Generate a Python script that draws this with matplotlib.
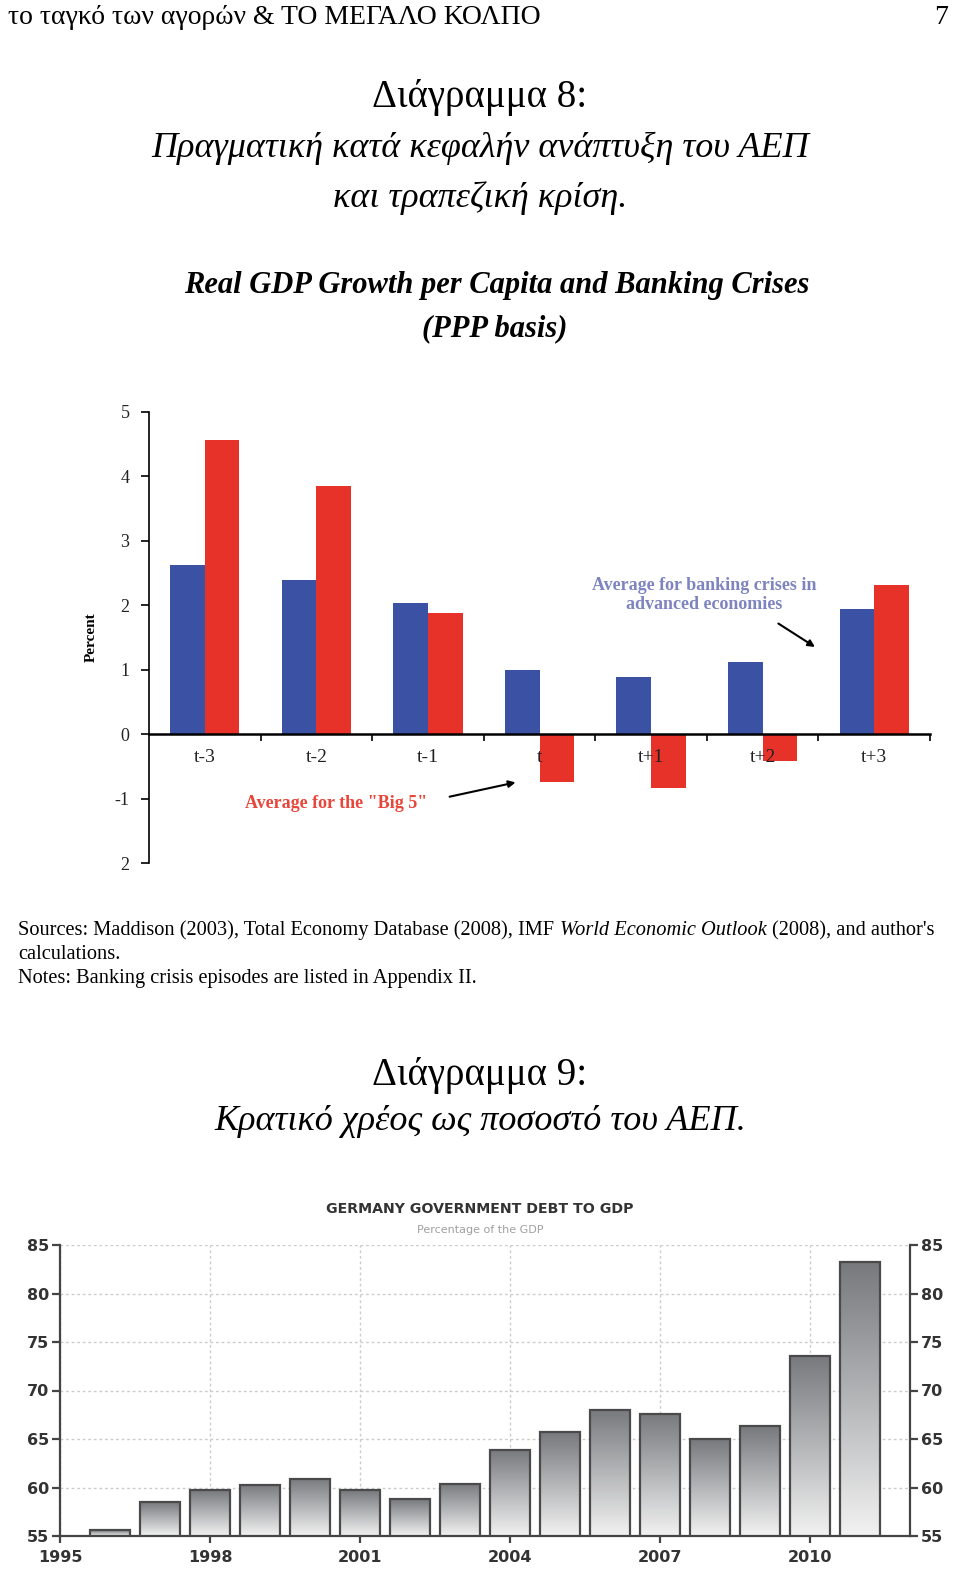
import numpy as np
import matplotlib
matplotlib.use("Agg")
import matplotlib.pyplot as plt
from matplotlib.colors import LinearSegmentedColormap

# --- chart 8 data: real GDP growth per capita around banking crises
periods = ["t-3", "t-2", "t-1", "t", "t+1", "t+2", "t+3"]
advanced = [2.62, 2.40, 2.03, 1.00, 0.88, 1.12, 1.95]
big5 = [4.56, 3.85, 1.88, -0.74, -0.84, -0.42, 2.31]
pct_ticks = [5, 4, 3, 2, 1, 0, -1, -2]
pct_labels = ["5", "4", "3", "2", "1", "0", "-1", "2"]

# --- chart 9 data: Germany government debt to GDP
years = list(range(1996, 2012))
debt = [55.6, 58.5, 59.7, 60.3, 60.9, 59.7, 58.8, 60.4,
        63.9, 65.7, 68.0, 67.6, 65.0, 66.3, 73.6, 83.2]
year_ticks = [1995, 1998, 2001, 2004, 2007, 2010]
debt_ticks = [55, 60, 65, 70, 75, 80, 85]

W, H = 960, 1581
SERIF = "Liberation Serif"


def fx(px):
    return px / W


def fy(py):
    return 1 - py / H


def axes_rect(left, top, right, bottom):
    return [fx(left), fy(bottom), (right - left) / W, (bottom - top) / H]


fig = plt.figure(figsize=(W / 100, H / 100), dpi=100)
fig.patch.set_facecolor("white")

# page header and captions
fig.text(fx(8), fy(17), "το ταγκό των αγορών & ΤΟ ΜΕΓΑΛΟ ΚΟΛΠΟ", family=SERIF,
         fontsize=20, ha="left", va="center")
fig.text(fx(948), fy(17), "7", family=SERIF, fontsize=20, ha="right", va="center")

fig.text(0.5, fy(98), "Διάγραμμα 8:", family=SERIF, fontsize=28, ha="center", va="center")
fig.text(0.5, fy(148), "Πραγματική κατά κεφαλήν ανάπτυξη του ΑΕΠ", family=SERIF,
         style="italic", fontsize=26, ha="center", va="center")
fig.text(0.5, fy(198), "και τραπεζική κρίση.", family=SERIF, style="italic",
         fontsize=26, ha="center", va="center")

fig.text(0.5, fy(1076), "Διάγραμμα 9:", family=SERIF, fontsize=28, ha="center", va="center")
fig.text(0.5, fy(1122), "Κρατικό χρέος ως ποσοστό του ΑΕΠ.", family=SERIF,
         style="italic", fontsize=26, ha="center", va="center")

# ---------------- chart 8 ----------------
fig.text(0.517, fy(285), "Real GDP Growth per Capita and Banking Crises", family=SERIF,
         weight="bold", style="italic", fontsize=22, ha="center", va="center")
fig.text(0.515, fy(329), "(PPP basis)", family=SERIF, weight="bold", style="italic",
         fontsize=22, ha="center", va="center")

ax1 = fig.add_axes(axes_rect(149, 412, 930, 863))
x = np.arange(len(periods))
w = 0.31
ax1.bar(x - w / 2, advanced, width=w, color="#3b51a3", zorder=2)
ax1.bar(x + w / 2, big5, width=w, color="#e7322a", zorder=2)
ax1.set_xlim(-0.5, len(periods) - 0.5)
ax1.set_ylim(-2, 5)
for s in ["top", "right"]:
    ax1.spines[s].set_visible(False)
ax1.spines["bottom"].set_position(("data", 0))
ax1.spines["bottom"].set_linewidth(1.8)
ax1.spines["bottom"].set_zorder(3)
ax1.spines["left"].set_linewidth(1.2)
ax1.set_yticks(pct_ticks)
ax1.set_yticklabels(pct_labels, family=SERIF, fontsize=13, color="#222222")
ax1.set_xticks(np.arange(len(periods)) + 0.5)
ax1.set_xticklabels([])
ax1.tick_params(axis="x", direction="out", length=5, width=1.2)
ax1.tick_params(axis="y", direction="out", length=6, width=1.2, pad=8)
for i, p in enumerate(periods):
    ax1.text(i, -0.36, p, family=SERIF, fontsize=14, ha="center", va="center", zorder=4,
             color="#222222")
ax1.set_ylabel("Percent", family=SERIF, fontsize=11, weight="bold", labelpad=12)

ax1.text(1.18, -1.07, 'Average for the "Big 5"', family=SERIF, fontsize=13, weight="bold",
         color="#e8463a", ha="center", va="center")
ax1.annotate("", xy=(2.81, -0.74), xytext=(2.17, -0.98),
             arrowprops=dict(arrowstyle="-|>", color="black", lw=1.5, mutation_scale=10))
ax1.text(4.48, 2.16, "Average for banking crises in\nadvanced economies", family=SERIF,
         fontsize=13, weight="bold", color="#7d84c0", ha="center", va="center",
         linespacing=1.2)
ax1.annotate("", xy=(5.49, 1.33), xytext=(5.12, 1.74),
             arrowprops=dict(arrowstyle="-|>", color="black", lw=1.5, mutation_scale=10))

# sources / notes
fs = 14.7
t1 = fig.text(fx(18), fy(940), "Sources: Maddison (2003), Total Economy Database (2008), IMF",
              family=SERIF, fontsize=fs, ha="left", va="bottom")
t2 = plt.annotate("World Economic Outlook", xy=(1, 0), xycoords=t1, xytext=(4, 0),
                  textcoords="offset points", family=SERIF, style="italic", fontsize=fs,
                  ha="left", va="bottom", annotation_clip=False)
plt.annotate("(2008), and author's", xy=(1, 0), xycoords=t2, xytext=(4, 0),
             textcoords="offset points", family=SERIF, fontsize=fs, ha="left", va="bottom",
             annotation_clip=False)
fig.text(fx(18), fy(964), "calculations.", family=SERIF, fontsize=fs, ha="left", va="bottom")
fig.text(fx(18), fy(988), "Notes: Banking crisis episodes are listed in Appendix II.",
         family=SERIF, fontsize=fs, ha="left", va="bottom")

# ---------------- chart 9 ----------------
fig.text(0.5, fy(1209), "GERMANY GOVERNMENT DEBT TO GDP", family="DejaVu Sans",
         weight="bold", fontsize=10.2, color="#333333", ha="center", va="center")
fig.text(0.5, fy(1230), "Percentage of the GDP", family="DejaVu Sans", fontsize=8,
         color="#a0a0a0", ha="center", va="center")

ax2 = fig.add_axes(axes_rect(60, 1245, 910, 1536))
bw = 0.82
cmap = LinearSegmentedColormap.from_list("bar", ["#f2f2f2", "#77797d"])
grad = np.linspace(0, 1, 256).reshape(-1, 1)
bars = ax2.bar(years, debt, width=bw, facecolor="none", edgecolor="#4a4a4a",
               linewidth=1.6, zorder=3)
for b, yr, v in zip(bars, years, debt):
    im = ax2.imshow(grad, cmap=cmap, origin="lower", aspect="auto",
                    extent=[yr - bw / 2, yr + bw / 2, 55, v], zorder=2)
    im.set_clip_path(b)
ax2.set_xlim(1995, 2012)
ax2.set_ylim(55, 85)
ax2.set_xticks(year_ticks)
ax2.set_yticks(debt_ticks)
ax2.grid(True, linestyle=(0, (2, 2)), color="#cccccc", linewidth=1, zorder=0)
ax2.spines["top"].set_visible(False)
for s in ["left", "right", "bottom"]:
    ax2.spines[s].set_color("#444444")
    ax2.spines[s].set_linewidth(1.6)
ax2.tick_params(axis="y", left=True, right=True, labelleft=True, labelright=True,
                length=6, width=1.6, color="#444444", pad=2)
ax2.tick_params(axis="x", length=5, width=1.6, color="#444444", pad=5)
for lab in ax2.get_xticklabels() + ax2.get_yticklabels():
    lab.set_family("DejaVu Sans")
    lab.set_fontsize(11.5)
    lab.set_weight("bold")
    lab.set_color("#333333")

fig.savefig("out.png", dpi=100, facecolor="white")
